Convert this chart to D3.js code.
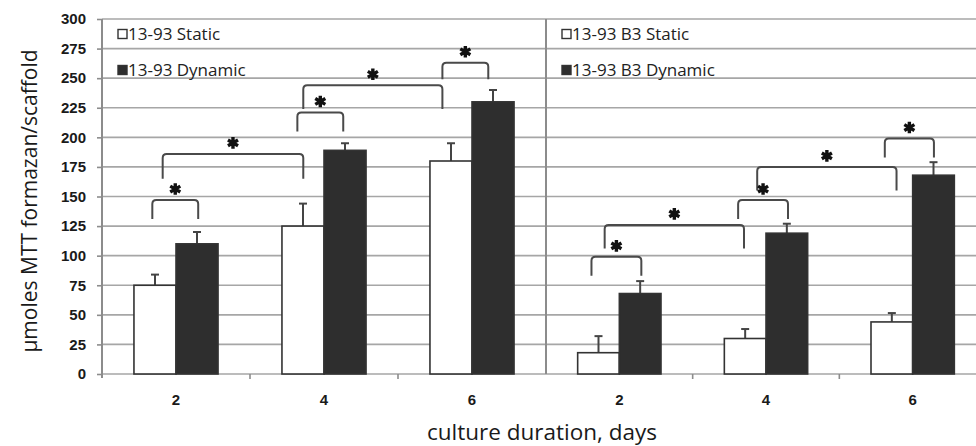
<!DOCTYPE html>
<html>
<head>
<meta charset="utf-8">
<script src="https://cdn.jsdelivr.net/npm/d3@7"></script>
<style>
  body { margin: 0; background: #fff; }
  svg { display: block; font-family: "Open Sans", sans-serif; }
</style>
</head>
<body>
<div id="chart"></div>
<script>
// culture duration (days)
const days = ['2', '4', '6']
const yTicks = [0, 25, 50, 75, 100, 125, 150, 175, 200, 225, 250, 275, 300]

// 13-93 scaffolds
const static1393 = [75, 125, 180]
const static1393Err = [9, 19, 15]
const dynamic1393 = [110, 189, 230]
const dynamic1393Err = [10, 6, 10]

// 13-93 B3 scaffolds
const staticB3 = [18, 30, 44]
const staticB3Err = [14, 8, 7.5]
const dynamicB3 = [68, 119, 168]
const dynamicB3Err = [10.5, 8, 11]

// significance brackets: ends in category units, heights in µmoles
const brackets1393 = [
    { from: 0.34, to: 0.65, top: 147, leg: 131 },
    { from: 0.41, to: 1.36, top: 186, leg: 165 },
    { from: 1.32, to: 1.63, top: 221, leg: 205 },
    { from: 1.36, to: 2.30, top: 244, leg: 224 },
    { from: 2.30, to: 2.61, top: 263, leg: 249 }
]
const bracketsB3 = [
    { from: 0.31, to: 0.65, top: 99, leg: 83 },
    { from: 0.40, to: 1.35, top: 126, leg: 106 },
    { from: 1.31, to: 1.65, top: 147, leg: 131 },
    { from: 1.44, to: 2.39, top: 175, leg: 155 },
    { from: 2.31, to: 2.645, top: 199, leg: 183 }
]

const panels = [
    { label: '13-93', range: [102, 546], stat: static1393, statErr: static1393Err,
      dyn: dynamic1393, dynErr: dynamic1393Err, brackets: brackets1393 },
    { label: '13-93 B3', range: [546, 986], stat: staticB3, statErr: staticB3Err,
      dyn: dynamicB3, dynErr: dynamicB3Err, brackets: bracketsB3 }
]

const width = 976, height = 446
const plotTop = 19, plotBottom = 374

const svg = d3.select('#chart').append('svg')
    .attr('width', width)
    .attr('height', height)

const y = d3.scaleLinear().domain([0, 300]).range([plotBottom, plotTop])

// gridlines
svg.append('g')
    .selectAll('line')
    .data(yTicks)
    .join('line')
    .attr('x1', 102)
    .attr('x2', width)
    .attr('y1', d => y(d))
    .attr('y2', d => y(d))
    .attr('stroke', '#a6a6a6')
    .attr('stroke-width', 1.6)

// y axis
const yAxis = svg.append('g')
    .attr('transform', `translate(102, 0)`)
    .call(d3.axisLeft(y).tickValues(yTicks).tickSize(5).tickPadding(11))
yAxis.select('.domain').attr('stroke', '#8c8c8c').attr('stroke-width', 2)
    .attr('d', `M-0,${plotBottom + 4}V${plotTop}`)
yAxis.selectAll('.tick line').attr('stroke', '#8c8c8c').attr('stroke-width', 1.6)
yAxis.selectAll('.tick text')
    .style('font-size', '15px')
    .style('font-weight', 'bold')
    .attr('fill', '#1a1a1a')

// separator between panels
svg.append('line')
    .attr('x1', 546).attr('x2', 546)
    .attr('y1', plotTop).attr('y2', plotBottom)
    .attr('stroke', '#8c8c8c').attr('stroke-width', 2)

const series = ['static', 'dynamic']

panels.forEach(p => {
    const x = d3.scaleBand().domain(days).range(p.range)
    const xs = d3.scaleBand().domain(series).range([0, x.bandwidth()]).paddingOuter(0.76)
    const xc = d3.scaleLinear().domain([0, 3]).range(p.range)
    const g = svg.append('g')

    const rows = days.map((d, i) => [
        { day: d, s: 'static', v: p.stat[i], e: p.statErr[i] },
        { day: d, s: 'dynamic', v: p.dyn[i], e: p.dynErr[i] }
    ]).flat()

    // error bars (upper only)
    const err = g.append('g')
        .selectAll('g')
        .data(rows)
        .join('g')
        .attr('transform', d => `translate(${x(d.day) + xs(d.s) + xs.bandwidth() / 2}, 0)`)
    err.append('line')
        .attr('y1', d => y(d.v))
        .attr('y2', d => y(d.v + d.e))
        .attr('stroke', '#444').attr('stroke-width', 2)
    err.append('line')
        .attr('x1', -4).attr('x2', 4)
        .attr('y1', d => y(d.v + d.e))
        .attr('y2', d => y(d.v + d.e))
        .attr('stroke', '#444').attr('stroke-width', 2)

    // bars
    g.append('g')
        .selectAll('rect')
        .data(rows)
        .join('rect')
        .attr('x', d => x(d.day) + xs(d.s))
        .attr('y', d => y(d.v))
        .attr('width', xs.bandwidth())
        .attr('height', d => y(0) - y(d.v))
        .attr('fill', d => d.s === 'static' ? '#fff' : '#2e2e2e')
        .attr('stroke', '#333')
        .attr('stroke-width', 1.6)

    // x axis
    const xAxis = svg.append('g')
        .attr('transform', `translate(0, ${plotBottom})`)
        .call(d3.axisBottom(x).tickSize(0).tickPadding(20))
    xAxis.select('.domain').remove()
    xAxis.selectAll('.tick text')
        .style('font-size', '15px')
        .style('font-weight', 'bold')
        .attr('fill', '#1a1a1a')

    // category boundary ticks
    svg.append('g')
        .selectAll('line')
        .data(days.slice(1))
        .join('line')
        .attr('x1', d => x(d)).attr('x2', d => x(d))
        .attr('y1', plotBottom).attr('y2', plotBottom + 5)
        .attr('stroke', '#8c8c8c').attr('stroke-width', 1.6)

    // significance brackets
    const r = 4
    g.append('g')
        .selectAll('path')
        .data(p.brackets)
        .join('path')
        .attr('d', b => {
            const x0 = xc(b.from), x1 = xc(b.to), yt = y(b.top), yl = y(b.leg)
            return `M${x0},${yl}V${yt + r}Q${x0},${yt} ${x0 + r},${yt}` +
                `H${x1 - r}Q${x1},${yt} ${x1},${yt + r}V${yl}`
        })
        .attr('fill', 'none')
        .attr('stroke', '#4a4a4a')
        .attr('stroke-width', 2)

    g.append('g')
        .selectAll('path')
        .data(p.brackets)
        .join('path')
        .attr('transform', b => `translate(${(xc(b.from) + xc(b.to)) / 2}, ${y(b.top) - 11})`)
        .attr('d', d3.symbol(d3.symbolAsterisk, 95))
        .attr('fill', 'none')
        .attr('stroke', '#111')
        .attr('stroke-width', 3.4)

    // legend
    const leg = svg.append('g')
        .attr('transform', `translate(${p.range[0] + 16}, 0)`)
    const items = [
        { name: p.label + ' Static', fill: '#fff', y: 34 },
        { name: p.label + ' Dynamic', fill: '#2e2e2e', y: 70 }
    ]
    leg.selectAll('rect')
        .data(items)
        .join('rect')
        .attr('x', 0).attr('y', d => d.y - 4.5)
        .attr('width', 9).attr('height', 9)
        .attr('fill', d => d.fill)
        .attr('stroke', '#333').attr('stroke-width', 1.4)
    leg.selectAll('text')
        .data(items)
        .join('text')
        .attr('x', 10)
        .attr('y', d => d.y + 6)
        .style('font-size', '17px')
        .attr('fill', '#222')
        .text(d => d.name)
})

// axis titles
svg.append('text')
    .attr('transform', 'translate(37, 201) rotate(-90)')
    .attr('text-anchor', 'middle')
    .style('font-size', '21px')
    .attr('fill', '#1a1a1a')
    .text('µmoles MTT formazan/scaffold')

svg.append('text')
    .attr('x', 542)
    .attr('y', 440)
    .attr('text-anchor', 'middle')
    .style('font-size', '22.5px')
    .attr('fill', '#1a1a1a')
    .text('culture duration, days')
</script>
</body>
</html>
